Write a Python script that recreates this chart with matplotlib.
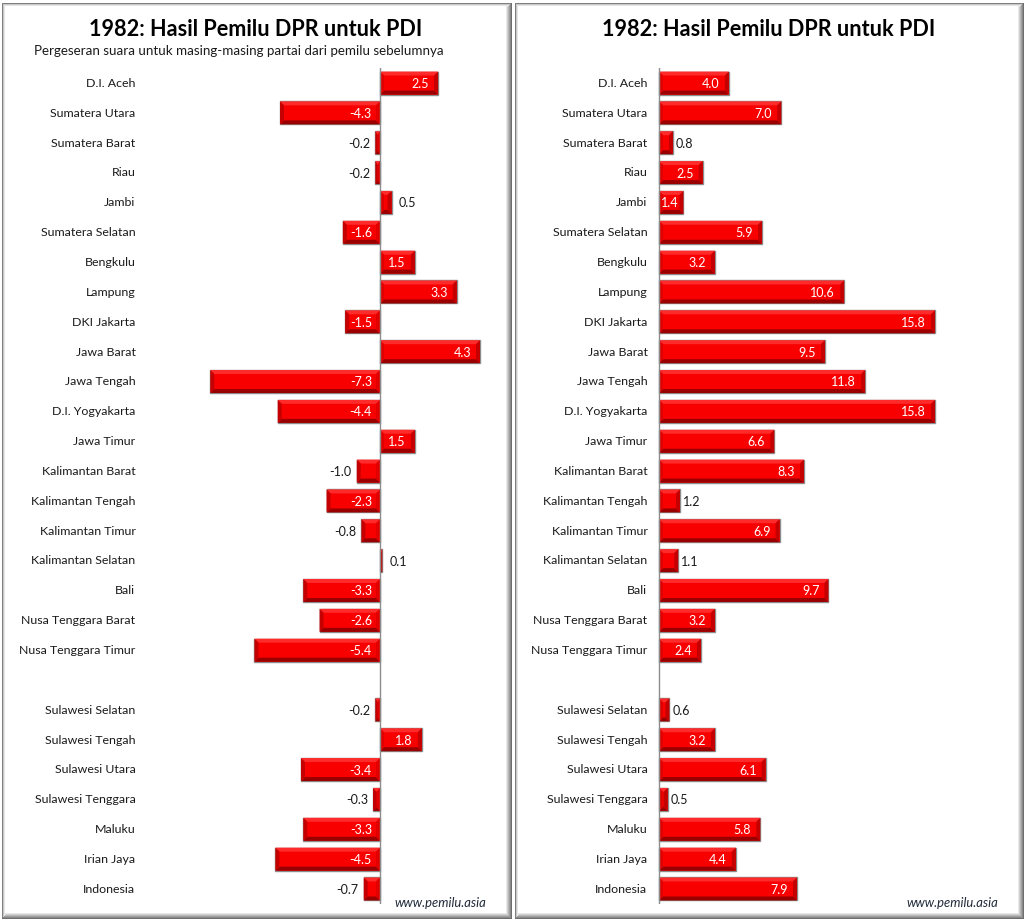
import numpy as np
import matplotlib
matplotlib.use('Agg')
import matplotlib.pyplot as plt
from matplotlib.patches import Polygon, Rectangle

plt.rcParams['font.family'] = ['Lato', 'DejaVu Sans']

W, H = 1026, 922

wilayah = ['D.I. Aceh', 'Sumatera Utara', 'Sumatera Barat', 'Riau', 'Jambi', 'Sumatera Selatan',
           'Bengkulu', 'Lampung', 'DKI Jakarta', 'Jawa Barat', 'Jawa Tengah', 'D.I. Yogyakarta',
           'Jawa Timur', 'Kalimantan Barat', 'Kalimantan Tengah', 'Kalimantan Timur',
           'Kalimantan Selatan', 'Bali', 'Nusa Tenggara Barat', 'Nusa Tenggara Timur', '',
           'Sulawesi Selatan', 'Sulawesi Tengah', 'Sulawesi Utara', 'Sulawesi Tenggara',
           'Maluku', 'Irian Jaya', 'Indonesia']

# baris kosong = None
geser = [2.5, -4.3, -0.2, -0.2, 0.5, -1.6, 1.5, 3.3, -1.5, 4.3, -7.3, -4.4, 1.5, -1.0, -2.3, -0.8,
         0.1, -3.3, -2.6, -5.4, None, -0.2, 1.8, -3.4, -0.3, -3.3, -4.5, -0.7]
suara = [4.0, 7.0, 0.8, 2.5, 1.4, 5.9, 3.2, 10.6, 15.8, 9.5, 11.8, 15.8, 6.6, 8.3, 1.2, 6.9,
         1.1, 9.7, 3.2, 2.4, None, 0.6, 3.2, 6.1, 0.5, 5.8, 4.4, 7.9]

judul = '1982: Hasil Pemilu DPR untuk PDI'
subjudul = 'Pergeseran suara untuk masing-masing partai dari pemilu sebelumnya'
sumber = 'www.pemilu.asia'

fig = plt.figure(figsize=(W / 100, H / 100), dpi=100, facecolor='white')

# bingkai panel, pakai koordinat piksel
bg = fig.add_axes([0, 0, 1, 1])
bg.set_xlim(0, W)
bg.set_ylim(H, 0)
bg.axis('off')


def frame(x0, x1, y0, y1):
    greys = ['#7f7f7f', '#c8c8c8', '#e6e6e6']
    for i, c in enumerate(greys):
        bg.add_patch(Rectangle((x0 + i, y0 + i), x1 - x0 - 2 * i, y1 - y0 - 2 * i, fc=c, ec='none'))
    # sisi kanan dan bawah lebih gelap
    shades = ['#6e6e6e', '#8a8a8a', '#a0a0a0', '#b8b8b8', '#d0d0d0', '#e8e8e8']
    for i, c in enumerate(shades):
        bg.add_patch(Polygon([(x1 - i, y0 + i), (x1 - i, y1 - i), (x0 + i, y1 - i),
                              (x0 + i, y1 - i - 1), (x1 - i - 1, y1 - i - 1), (x1 - i - 1, y0 + i)],
                             fc=c, ec='none'))
    bg.add_patch(Rectangle((x0 + 3, y0 + 3), x1 - x0 - 9, y1 - y0 - 9, fc='white', ec='none'))


frame(2, 512, 3, 919)
frame(515, 1024, 3, 919)


def bevel_bar(ax, val, y, h, sx, sy):
    # batang dasar lewat barh, lalu sisi bevel di atasnya
    ax.barh(y, val, height=h, color='#f80000', edgecolor='#8c8c8c', linewidth=1.0, zorder=2)
    b_px = min(4.0, abs(val) * sx / 2)
    bx = b_px / sx * np.sign(val)
    by = 4.0 / sy
    t = y - h / 2  # atas (sumbu y terbalik)
    d = y + h / 2
    ax.add_patch(Polygon([(0, t), (val, t), (val - bx, t + by), (bx, t + by)], fc='#ff2a2a', ec='none', zorder=3))
    ax.add_patch(Polygon([(0, d), (val, d), (val - bx, d - by), (bx, d - by)], fc='#9a0000', ec='none', zorder=3))
    ax.add_patch(Polygon([(0, t), (bx, t + by), (bx, d - by), (0, d)], fc='#e00000', ec='none', zorder=3))
    ax.add_patch(Polygon([(val, t), (val - bx, t + by), (val - bx, d - by), (val, d)], fc='#c40000', ec='none', zorder=3))


def panel(x_left, x_right, x_zero, px_per_unit, nilai, label_x, judul_x, source_x, pos_gap):
    top, bottom = 68.1, 903.9
    ax = fig.add_axes([x_left / W, 1 - bottom / H, (x_right - x_left) / W, (bottom - top) / H])
    ax.set_xlim((x_left - x_zero) / px_per_unit, (x_right - x_zero) / px_per_unit)
    ax.set_ylim(27.5, -0.5)
    ax.axis('off')
    ax.patch.set_alpha(0)
    sy = (bottom - top) / 28
    for i, v in enumerate(nilai):
        if v is None:
            continue
        bevel_bar(ax, v, i, 23 / sy, px_per_unit, sy)
        ax.annotate(wilayah[i], xy=(label_x / W, 1 - (83.4 + i * 29.85) / H), xycoords='figure fraction',
                    ha='right', va='center', fontsize=8.9, color='#1a1a1a')
        txt = f'{v:.1f}'
        if abs(v) >= 1.4:
            if v > 0:
                xr = v
                xo = -5 if v * px_per_unit < 30 else -9
            else:
                xr = -8 / px_per_unit
                xo = 0
            ax.annotate(txt, xy=(xr, i), xytext=(xo * 0.72, -0.7), textcoords='offset points',
                        ha='right', va='center', fontsize=9, color='white', zorder=5)
        elif v > 0:
            ax.annotate(txt, xy=(v, i), xytext=(pos_gap * 0.72, -0.7), textcoords='offset points',
                        ha='left', va='center', fontsize=9, color='#1a1a1a', zorder=5)
        else:
            xr = min(-8 / px_per_unit, v - 5 / px_per_unit)
            ax.annotate(txt, xy=(xr, i), xytext=(0, -0.7), textcoords='offset points',
                        ha='right', va='center', fontsize=9, color='#1a1a1a', zorder=5)
    ax.axvline(0, color='#8c8c8c', linewidth=1.0, zorder=4)
    fig.text(judul_x / W, 1 - 29 / H, judul, ha='center', va='center', fontsize=15.6,
             fontweight='bold', color='black')
    fig.text(source_x / W, 1 - 903 / H, sumber, ha='left', va='center', fontsize=9.4,
             style='italic', color='#1f2a3a')


panel(140, 505, 380, 23.25, geser, 135.5, 256, 394, 7)
panel(652, 1017, 659, 17.47, suara, 647.5, 768.5, 906, 3)
fig.text(239 / W, 1 - 51 / H, subjudul, ha='center', va='center', fontsize=9.65, color='#1a1a1a')

fig.savefig('out.png', dpi=100, facecolor='white')
